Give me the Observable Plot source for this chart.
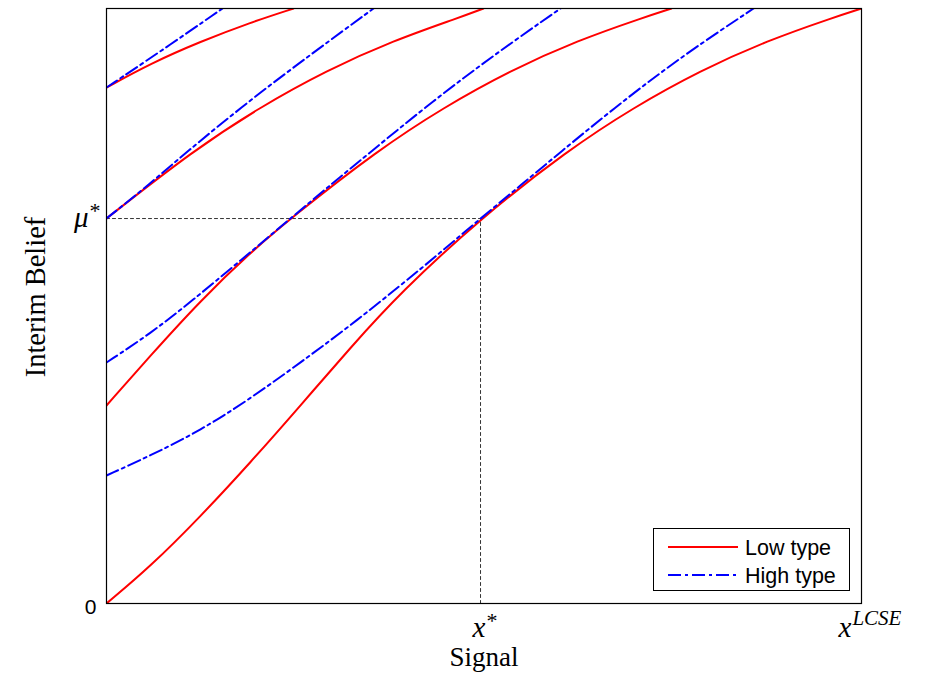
<!DOCTYPE html>
<html>
<head>
<meta charset="utf-8">
<script src="https://cdn.jsdelivr.net/npm/d3@7"></script>
<script src="https://cdn.jsdelivr.net/npm/@observablehq/plot@0.6"></script>
<style>
  body { margin: 0; background: #fff; }
  #wrap { position: relative; width: 948px; height: 673px; }
  #legend { position: absolute; left: 653px; top: 528px; width: 197px; height: 63px;
            border: 1px solid #000; background: #fff; box-sizing: border-box; }
</style>
</head>
<body>
<div id="wrap"><div id="legend"></div></div>
<script>
// ---- data (normalized signal / belief) ----
const xTicks = [0.4954, 1];
const xTickBase = ["x", "x"];
const xTickSup = ["*", "LCSE"];
const yTicks = [0, 0.647];
const yTickBase = ["0", "μ"];
const yTickSup = ["", "*"];

const seriesNames = ["Low type", "High type"];

// Low type curves
const lowA_x = [0, 0.0583, 0.1245, 0.1907, 0.2570, 0.3232, 0.3894, 0.4954, 0.6106, 0.6980, 0.7868, 0.8755, 0.9629, 1];
const lowA_y = [0, 0.0622, 0.1462, 0.2370, 0.3328, 0.4303, 0.5227, 0.6471, 0.7613, 0.8336, 0.8958, 0.9462, 0.9849, 1];
const lowB_x = [0, 0.0583, 0.1245, 0.1907, 0.2437, 0.3589, 0.4464, 0.5351, 0.6238, 0.7113, 0.7483];
const lowB_y = [0.3328, 0.4168, 0.5092, 0.5899, 0.6471, 0.7613, 0.8336, 0.8958, 0.9462, 0.9849, 1];
const lowC_x = [0, 0.1152, 0.2026, 0.2914, 0.3801, 0.4675, 0.4993];
const lowC_y = [0.6471, 0.7613, 0.8336, 0.8958, 0.9462, 0.9849, 1];
const lowD_x = [0, 0.0583, 0.1245, 0.1907, 0.2477];
const lowD_y = [0.8672, 0.9076, 0.9445, 0.9765, 1];

// High type curves
const highA_x = [0, 0.0583, 0.1245, 0.1907, 0.2570, 0.3232, 0.3894, 0.4424, 0.4954, 0.5483, 0.5974, 0.6848, 0.7695, 0.8570];
const highA_y = [0.2151, 0.2487, 0.2908, 0.3445, 0.4050, 0.4672, 0.5345, 0.5899, 0.6471, 0.7025, 0.7546, 0.8454, 0.9261, 1];
const highB_x = [0, 0.0583, 0.1139, 0.1775, 0.2437, 0.3007, 0.3457, 0.4331, 0.5179, 0.6013];
const highB_y = [0.4050, 0.4538, 0.5092, 0.5765, 0.6471, 0.7076, 0.7546, 0.8454, 0.9261, 1];
const highC_x = [0, 0.0583, 0.1020, 0.1894, 0.2742, 0.3536];
const highC_y = [0.6471, 0.7059, 0.7546, 0.8454, 0.9261, 1];
const highD_x = [0, 0.0675, 0.1536];
const highD_y = [0.8672, 0.9244, 1];

// ---- build tables ----
function rows(id, xs, ys) { return xs.map((x, i) => ({curve: id, x, y: ys[i]})); }
const lowRows = [
  ...rows("A", lowA_x, lowA_y), ...rows("B", lowB_x, lowB_y),
  ...rows("C", lowC_x, lowC_y), ...rows("D", lowD_x, lowD_y)
];
const highRows = [
  ...rows("A", highA_x, highA_y), ...rows("B", highB_x, highB_y),
  ...rows("C", highC_x, highC_y), ...rows("D", highD_x, highD_y)
];
const xStar = xTicks[0], muStar = yTicks[1];
const guideRows = [{x: 0, y: muStar}, {x: xStar, y: muStar}, {x: xStar, y: 0}];

const RED = "#ff0000", BLUE = "#0000ff", DASHDOT = "13,4,3,4";
const SERIF = "'Liberation Serif', 'Times New Roman', serif";
const SANS = "'Liberation Sans', Arial, sans-serif";

const chart = Plot.plot({
  width: 948, height: 673,
  marginLeft: 106, marginRight: 87, marginTop: 8, marginBottom: 70,
  style: {background: "#fff", overflow: "visible"},
  x: {domain: [0, 1]},
  y: {domain: [0, 1]},
  marks: [
    Plot.line(guideRows, {x: "x", y: "y", stroke: "#333", strokeWidth: 1, strokeDasharray: "3,3"}),
    Plot.line(lowRows, {x: "x", y: "y", z: "curve", stroke: RED, strokeWidth: 2, curve: "basis", clip: true}),
    Plot.line(highRows, {x: "x", y: "y", z: "curve", stroke: BLUE, strokeWidth: 2, strokeDasharray: DASHDOT, curve: "basis", clip: true}),
    Plot.frame({stroke: "#000", strokeWidth: 1.2}),
    Plot.axisX(xTicks, {tickSize: 0, tickPadding: 0, tickFormat: d => String(xTicks.indexOf(d)), label: null}),
    Plot.axisY(yTicks, {tickSize: 0, tickPadding: 6, tickFormat: d => String(yTicks.indexOf(d)), label: null})
  ]
});
document.getElementById("wrap").prepend(chart);

// ---- rich tick labels (base + superscript) ----
const svg = d3.select(chart);
function richen(sel, base, sup, opts) {
  sel.each(function() {
    const t = d3.select(this);
    const k = +t.text();
    t.text("").attr("y", null).attr("dy", null);
    const numeric = /^[0-9]/.test(base[k]);
    t.attr("font-family", numeric ? SANS : SERIF)
     .attr("font-size", numeric ? 21 : 29)
     .attr("font-style", numeric ? "normal" : "italic")
     .attr("fill", "#000");
    opts(t, k, numeric);
    t.append("tspan").text(base[k]);
    if (sup[k]) t.append("tspan").attr("font-size", sup[k] === "*" ? 22 : 21)
        .attr("font-style", sup[k] === "*" ? "normal" : "italic")
        .attr("dy", sup[k] === "*" ? -9 : -12).attr("dx", 1).text(sup[k]);
  });
}
richen(svg.selectAll('g[aria-label="x-axis tick label"] text'), xTickBase, xTickSup, (t, k) => {
  t.attr("text-anchor", "start").attr("dy", 33).attr("dx", k === 0 ? -8 : -23);
});
richen(svg.selectAll('g[aria-label="y-axis tick label"] text'), yTickBase, yTickSup, (t, k, numeric) => {
  t.attr("text-anchor", "end").attr("dy", numeric ? 10 : 8).attr("dx", numeric ? -4 : 0);
});

// ---- axis titles ----
svg.append("text").attr("x", 484).attr("y", 666).attr("text-anchor", "middle")
  .attr("font-family", SERIF).attr("font-size", 27).attr("fill", "#000")
  .text("Signal");
svg.append("text").attr("transform", "translate(45,297) rotate(-90)").attr("text-anchor", "middle")
  .attr("font-family", SERIF).attr("font-size", 28.5).attr("fill", "#000")
  .text("Interim Belief");

// ---- legend ----
const lg = d3.select("#legend").append("svg").attr("width", 195).attr("height", 61);
const items = [{name: seriesNames[0], color: RED, dash: null}, {name: seriesNames[1], color: BLUE, dash: DASHDOT}];
items.forEach((it, i) => {
  const cy = 18 + i * 28;
  lg.append("line").attr("x1", 14).attr("x2", 84).attr("y1", cy).attr("y2", cy)
    .attr("stroke", it.color).attr("stroke-width", 2).attr("stroke-dasharray", it.dash);
  lg.append("text").attr("x", 91).attr("y", cy).attr("dy", "0.35em")
    .attr("font-family", SANS).attr("font-size", 21.5).attr("fill", "#000")
    .text(it.name);
});
</script>
</body>
</html>
